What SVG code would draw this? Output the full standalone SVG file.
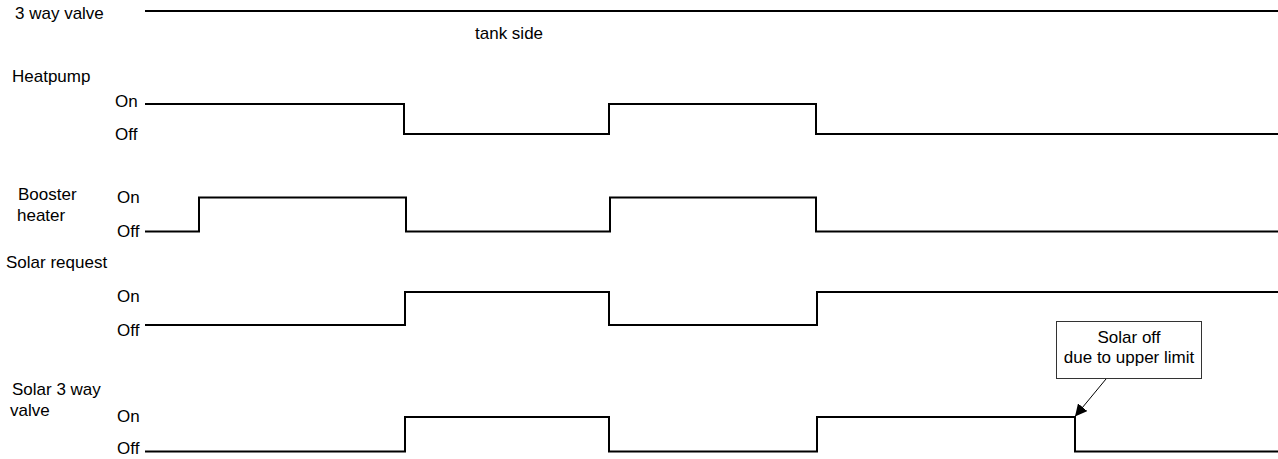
<svg xmlns="http://www.w3.org/2000/svg" width="1278" height="459" viewBox="0 0 1278 459">
<style>
text{font-family:"Liberation Sans",Arial,sans-serif;font-size:17px;fill:#000}
.sig{fill:none;stroke:#000;stroke-width:2;stroke-linejoin:miter}
.box{fill:#fff;stroke:#333;stroke-width:1}
.arr{stroke:#000;stroke-width:1;fill:none}
</style>
<defs>
<marker id="ah" viewBox="0 0 10 10" refX="10" refY="5" markerWidth="12" markerHeight="12" markerUnits="userSpaceOnUse" orient="auto">
<path d="M0 0 L10 5 L0 10 z" fill="#000"/>
</marker>
</defs>
<g id="labels">
<text x="15" y="19">3 way valve</text>
<text x="475" y="39">tank side</text>
<text x="12" y="82">Heatpump</text>
<text x="115" y="107">On</text>
<text x="115" y="140">Off</text>
<text x="18" y="200">Booster</text>
<text x="17" y="221">heater</text>
<text x="117" y="203">On</text>
<text x="117" y="237">Off</text>
<text x="6" y="268">Solar request</text>
<text x="117" y="302">On</text>
<text x="117" y="336">Off</text>
<text x="12" y="395">Solar 3 way</text>
<text x="10" y="416">valve</text>
<text x="117" y="422">On</text>
<text x="117" y="454">Off</text>
</g>
<g id="connectors">
<path id="valve" class="sig" d="M145 11 H1278"/>
<path id="heatpump" class="sig" d="M145 104 H404 V134 H609 V104 H816 V134 H1278"/>
<path id="booster" class="sig" d="M145 231.5 H199 V197.5 H406 V231.5 H610 V197.5 H816 V231.5 H1278"/>
<path id="solarreq" class="sig" d="M145 325 H405 V292 H609 V325 H817 V292 H1278"/>
<path id="solar3way" class="sig" d="M145 451.5 H405 V417 H609 V451.5 H817 V417 H1075 V451.5 H1278"/>
<line class="arr" x1="1106" y1="379" x2="1075" y2="416.5" marker-end="url(#ah)"/>
</g>
<g id="note">
<rect class="box" x="1056.5" y="321.5" width="145" height="57"/>
<text x="1129" y="343" text-anchor="middle">Solar off</text>
<text x="1129" y="363" text-anchor="middle">due to upper limit</text>
</g>
</svg>
